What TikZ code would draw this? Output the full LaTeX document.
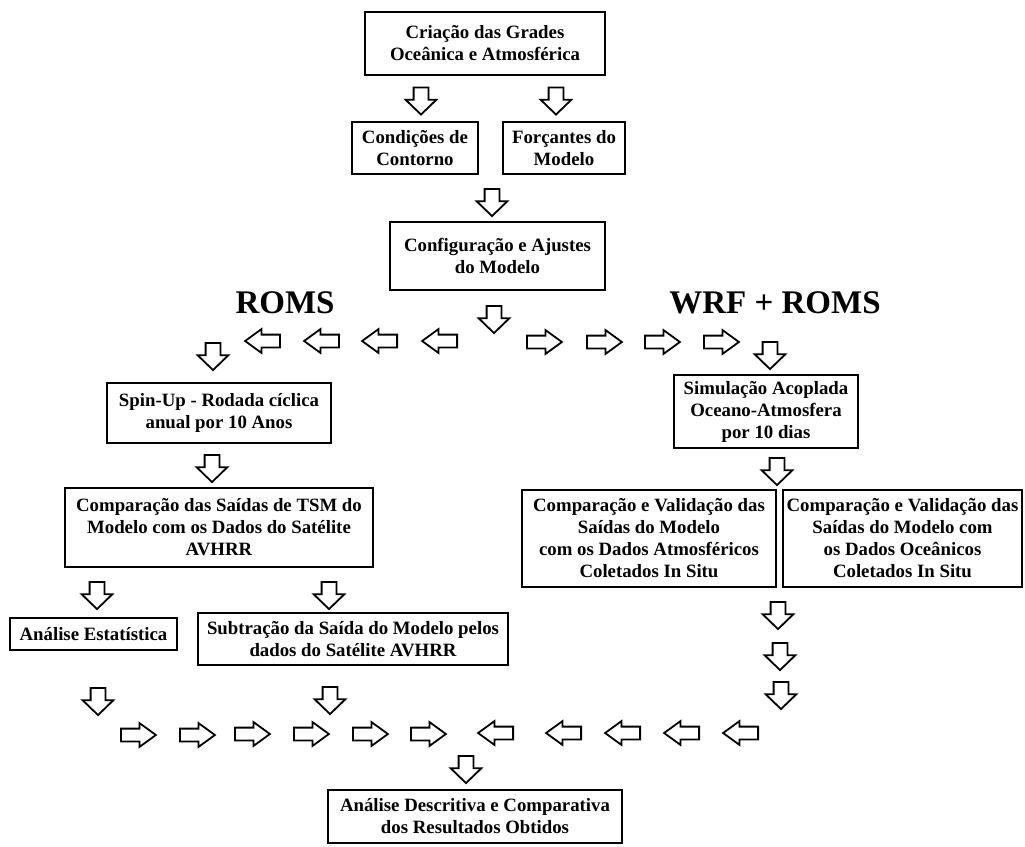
\documentclass[tikz,border=0pt]{standalone}
\usepackage{fontspec}
\setmainfont{Liberation Serif}
\usetikzlibrary{shapes.arrows}

\begin{document}
\begin{tikzpicture}[x=1pt,y=-1pt,
  box/.style={draw,line width=2.4pt,align=center,inner sep=0pt,
    font=\bfseries\fontsize{18.8}{22}\selectfont},
  title/.style={font=\bfseries\fontsize{33}{36}\selectfont,inner sep=0pt},
  blk/.style={single arrow,draw,line width=1.8pt,
    single arrow head indent=0pt},
  blockdown/.style={blk,shape border rotate=270,inner sep=6.5pt,
    minimum height=27pt,single arrow head extend=8pt,single arrow tip angle=92},
  blockright/.style={blk,shape border rotate=0,inner sep=5.5pt,
    minimum height=35pt,single arrow head extend=5.5pt,single arrow tip angle=72},
  blockleft/.style={blockright,shape border rotate=180}]
\useasboundingbox (0,0) rectangle (1025,846);

\node[box,minimum width=240pt,minimum height=63pt] (grades) at (485,43.5)
  {Criação das Grades\\Oceânica e Atmosférica};
\node[box,minimum width=126pt,minimum height=52pt] (contorno) at (415,148)
  {Condições de\\Contorno};
\node[box,minimum width=122pt,minimum height=52pt] (forcantes) at (564,148)
  {Forçantes do\\Modelo};
\node[box,minimum width=215pt,minimum height=68pt] (config) at (497.5,256)
  {Configuração e Ajustes\\do Modelo};
\node[title] (roms) at (285,303) {ROMS};
\node[title] (wrfroms) at (775,303) {WRF + ROMS};
\node[box,minimum width=224pt,minimum height=60pt] (spinup) at (219,413)
  {Spin-Up - Rodada cíclica\\anual por 10 Anos};
\node[box,minimum width=184pt,minimum height=73pt] (simul) at (766,411.5)
  {Simulação Acoplada\\ Oceano-Atmosfera\\por 10 dias};
\node[box,minimum width=308pt,minimum height=79pt] (tsm) at (219,527.5)
  {Comparação das Saídas de TSM do\\Modelo com os Dados do Satélite\\AVHRR};
\node[box,minimum width=254pt,minimum height=97pt] (atmos) at (649,538.5)
  {Comparação e Validação das\\Saídas do Modelo\\com os Dados Atmosféricos\\Coletados In Situ};
\node[box,minimum width=239pt,minimum height=97pt] (oceano) at (902.5,538.5)
  {Comparação e Validação das\\Saídas do Modelo com\\os Dados Oceânicos\\Coletados In Situ};
\node[box,minimum width=167pt,minimum height=32pt] (estat) at (93.5,634)
  {Análise Estatística};
\node[box,minimum width=310pt,minimum height=52pt] (subtr) at (353,639)
  {Subtração da Saída do Modelo pelos\\dados do Satélite AVHRR};
\node[box,minimum width=294pt,minimum height=53pt] (final) at (475,816.5)
  {Análise Descritiva e Comparativa\\dos Resultados Obtidos};

\node[blockdown] (d1) at (421,97.5) {};
\node[blockdown] (d2) at (556,97.5) {};
\node[blockdown] (d3) at (492,199) {};
\node[blockdown] (d4) at (494,316) {};
\node[blockdown] (d5) at (213,353) {};
\node[blockdown] (d6) at (770,352) {};
\node[blockdown] (d7) at (212,465) {};
\node[blockdown] (d8) at (777,468) {};
\node[blockdown] (d9) at (97,592) {};
\node[blockdown] (d10) at (329,592) {};
\node[blockdown] (d11) at (778,612) {};
\node[blockdown] (d12) at (780,653) {};
\node[blockdown] (d13) at (781,692) {};
\node[blockdown] (d14) at (98,698) {};
\node[blockdown] (d15) at (330,697) {};
\node[blockdown] (d16) at (466,766) {};

\node[blockleft] (l1) at (444,341) {};
\node[blockleft] (l2) at (384,341) {};
\node[blockleft] (l3) at (326,341) {};
\node[blockleft] (l4) at (267,341) {};
\node[blockright] (r1) at (540,342) {};
\node[blockright] (r2) at (600,342) {};
\node[blockright] (r3) at (658,342) {};
\node[blockright] (r4) at (717,342) {};

\node[blockright] (r5) at (134,735) {};
\node[blockright] (r6) at (193,735) {};
\node[blockright] (r7) at (248,734) {};
\node[blockright] (r8) at (307,734) {};
\node[blockright] (r9) at (366,734) {};
\node[blockright] (r10) at (424,734) {};
\node[blockleft] (l5) at (745,733) {};
\node[blockleft] (l6) at (686,733) {};
\node[blockleft] (l7) at (627,733) {};
\node[blockleft] (l8) at (568,733) {};
\node[blockleft] (l9) at (500,733) {};
\end{tikzpicture}
\end{document}
